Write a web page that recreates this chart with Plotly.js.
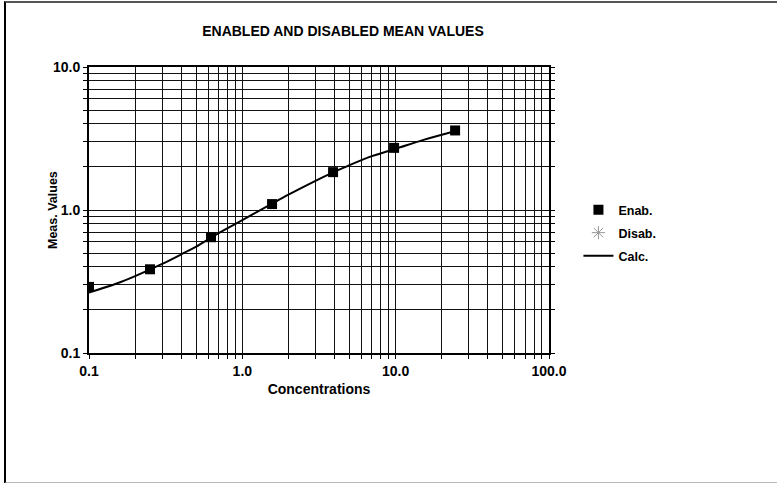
<!DOCTYPE html>
<html>
<head>
<meta charset="utf-8">
<script src="https://cdn.plot.ly/plotly-3.0.1.min.js"></script>
<style>
html,body{margin:0;padding:0;background:#fff;}
#wrap{position:relative;width:777px;height:483px;overflow:hidden;}
#frame{position:absolute;left:4px;top:1px;width:790px;height:479px;border-left:2px solid #000;border-top:2px solid #555;border-bottom:2px solid #bbb;pointer-events:none;z-index:5;}
#chart{position:absolute;left:0;top:0;width:777px;height:483px;}
</style>
</head>
<body>
<div id="wrap"><div id="chart"></div><div id="frame"></div></div>
<script>
// Data
const enabX = [0.1, 0.25, 0.625, 1.5625, 3.90625, 9.765625, 24.4140625];
const enabY = [0.29, 0.385, 0.645, 1.10, 1.84, 2.72, 3.60];
const disabX = [null];
const disabY = [null];
const calcX = [0.1, 0.15, 0.2, 0.3, 0.4, 0.5, 0.7, 1.0, 1.5, 2.0, 3.0, 4.0, 5.0, 7.0, 10, 15, 20, 25];
const calcY = [0.265, 0.305, 0.345, 0.42, 0.49, 0.555, 0.69, 0.85, 1.08, 1.28, 1.60, 1.85, 2.06, 2.38, 2.68, 3.08, 3.36, 3.57];
const xTickVals = [0.1,0.2,0.3,0.4,0.5,0.6,0.7,0.8,0.9,1,2,3,4,5,6,7,8,9,10,20,30,40,50,60,70,80,90,100];
const yTickVals = [0.1,0.2,0.3,0.4,0.5,0.6,0.7,0.8,0.9,1,2,3,4,5,6,7,8,9,10];
const decadeLabels = {0.1:'0.1', 1:'1.0', 10:'10.0', 100:'100.0'};
const xTickText = xTickVals.map(v => decadeLabels[v] || '');
const yTickText = yTickVals.map(v => decadeLabels[v] || '');

const F = 'Liberation Sans, Arial, sans-serif';
const traces = [
  {x: enabX, y: enabY, name: 'Enab.', mode: 'markers', type: 'scatter',
   marker: {symbol: 'square', size: 10, color: '#000'}, legend: 'legend'},
  {x: disabX, y: disabY, name: 'Disab.', mode: 'markers', type: 'scatter',
   marker: {symbol: 'asterisk-open', size: 11, color: '#999', line: {color: '#999', width: 1}}, legend: 'legend2'},
  {x: calcX, y: calcY, name: 'Calc.', mode: 'lines', type: 'scatter',
   line: {color: '#000', width: 2, shape: 'spline'}, legend: 'legend3'}
];
const legBase = {font: {family: F, size: 12.5, color: '#000', weight: 'bold'}, bgcolor: 'rgba(0,0,0,0)',
  xanchor: 'left', yanchor: 'middle', itemwidth: 30};
const axisFont = {family: F, size: 14, color: '#000', weight: 'bold'};
const layout = {
  width: 777, height: 483,
  margin: {l: 89, r: 228, t: 67, b: 130},
  paper_bgcolor: '#fff', plot_bgcolor: '#fff',
  showlegend: true,
  title: {text: 'ENABLED AND DISABLED MEAN VALUES', font: {family: F, size: 14, color: '#000', weight: 'bold'},
    x: 343/777, xref: 'container', xanchor: 'center', y: 1 - 31/483, yref: 'container', yanchor: 'middle'},
  xaxis: {type: 'log', range: [-1, 2], tickmode: 'array', tickvals: xTickVals, ticktext: xTickText,
    tickfont: axisFont, showgrid: true, gridcolor: '#111', gridwidth: 1,
    showline: true, linecolor: '#000', linewidth: 2, mirror: true,
    ticks: 'outside', ticklen: 4, tickcolor: '#000', zeroline: false,
    title: {text: 'Concentrations', font: axisFont, standoff: 6}},
  yaxis: {type: 'log', range: [-1, 1], tickmode: 'array', tickvals: yTickVals, ticktext: yTickText,
    tickfont: axisFont, showgrid: true, gridcolor: '#111', gridwidth: 1,
    showline: true, linecolor: '#000', linewidth: 2, mirror: 'ticks',
    ticks: 'outside', ticklen: 4, tickcolor: '#000', zeroline: false},
  annotations: [{text: 'Meas. Values', textangle: -90, font: {family: F, size: 12.5, color: '#000', weight: 'bold'},
    showarrow: false, xref: 'paper', yref: 'paper', x: (53-89)/460, y: 0.5, xanchor: 'center', yanchor: 'middle'}],
  legend: Object.assign({}, legBase, {x: 1.064, y: (353-210)/286}),
  legend2: Object.assign({}, legBase, {x: 1.064, y: (353-233)/286}),
  legend3: Object.assign({}, legBase, {x: 1.064, y: (353-256)/286})
};
Plotly.newPlot('chart', traces, layout, {displayModeBar: false, staticPlot: true});
</script>
</body>
</html>
